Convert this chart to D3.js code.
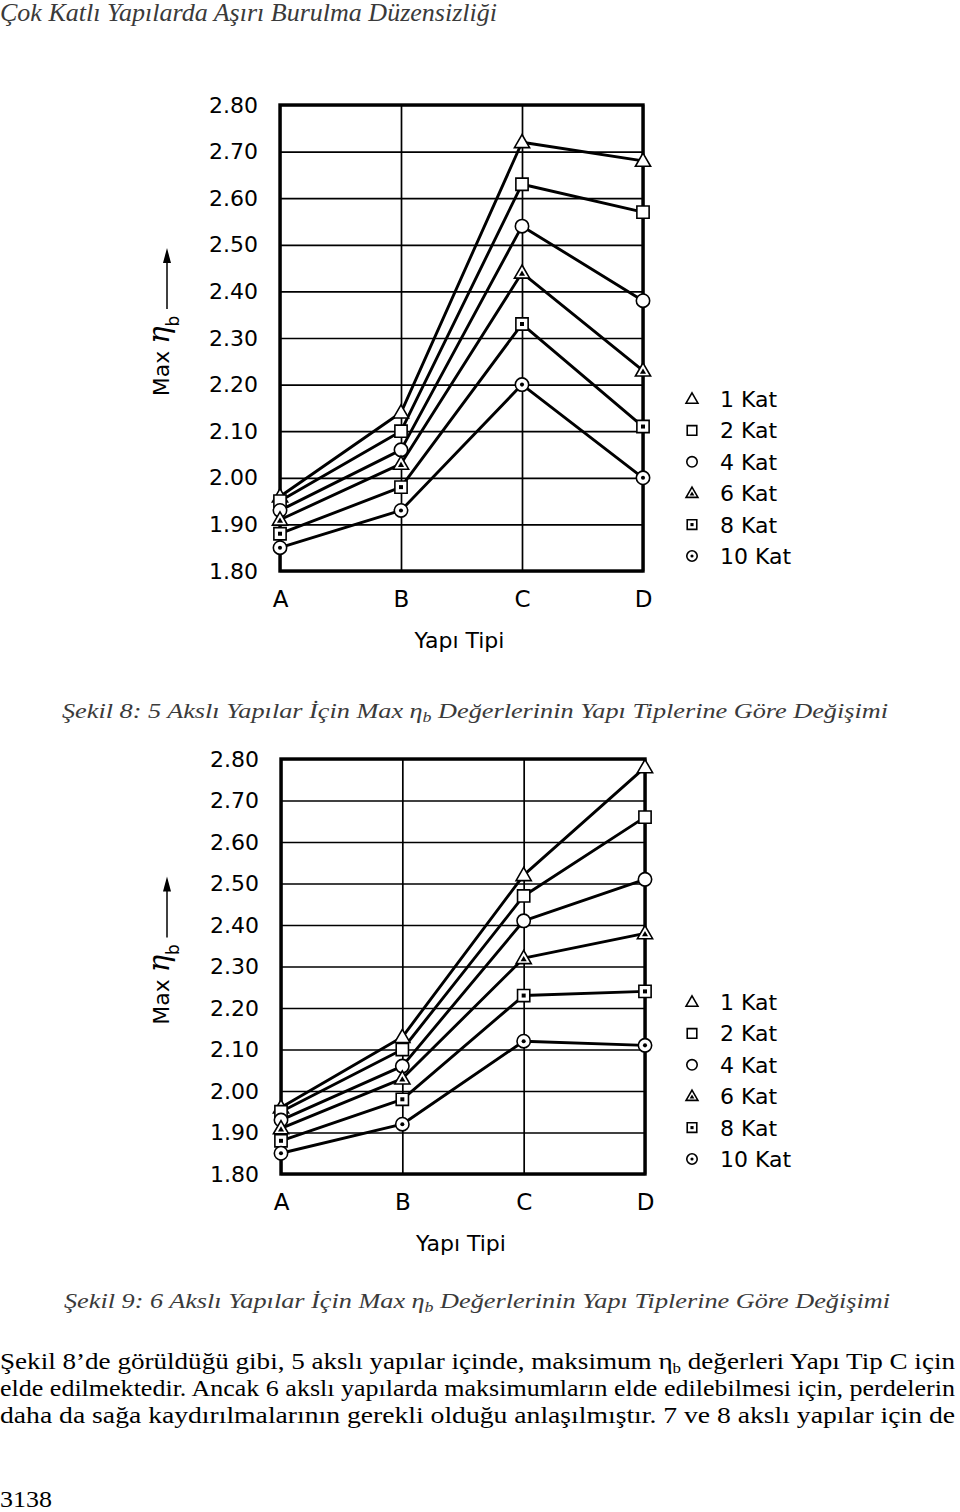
<!DOCTYPE html>
<html>
<head>
<meta charset="utf-8">
<script src="https://cdn.jsdelivr.net/npm/d3@7"></script>
<style>
  html, body { margin: 0; padding: 0; background: #fff; }
  svg { display: block; }
  .serif { font-family: "Liberation Serif", "Times New Roman", Times, "Nimbus Roman", serif; }
  .sans { font-family: "DejaVu Sans", Verdana, sans-serif; }
</style>
</head>
<body>
<script>
// ---------------- DATA ----------------
const categories = ["A", "B", "C", "D"];
const seriesNames = ["1 Kat", "2 Kat", "4 Kat", "6 Kat", "8 Kat", "10 Kat"];
const yTickValues = [1.80, 1.90, 2.00, 2.10, 2.20, 2.30, 2.40, 2.50, 2.60, 2.70, 2.80];

// Şekil 8: 5 akslı yapılar
const fig8_kat1  = [1.96, 2.14, 2.72, 2.68];
const fig8_kat2  = [1.95, 2.10, 2.63, 2.57];
const fig8_kat4  = [1.93, 2.06, 2.54, 2.38];
const fig8_kat6  = [1.91, 2.03, 2.44, 2.23];
const fig8_kat8  = [1.88, 1.98, 2.33, 2.11];
const fig8_kat10 = [1.85, 1.93, 2.20, 2.00];

// Şekil 9: 6 akslı yapılar
const fig9_kat1  = [1.96, 2.13, 2.52, 2.78];
const fig9_kat2  = [1.95, 2.10, 2.47, 2.66];
const fig9_kat4  = [1.93, 2.06, 2.41, 2.51];
const fig9_kat6  = [1.91, 2.03, 2.32, 2.38];
const fig9_kat8  = [1.88, 1.98, 2.23, 2.24];
const fig9_kat10 = [1.85, 1.92, 2.12, 2.11];

const headerText = "Çok Katlı Yapılarda Aşırı Burulma Düzensizliği";
const caption8 = ["Şekil 8: 5 Akslı Yapılar İçin Max ", "Değerlerinin Yapı Tiplerine Göre Değişimi"];
const caption9 = ["Şekil 9: 6 Akslı Yapılar İçin Max ", "Değerlerinin Yapı Tiplerine Göre Değişimi"];
const paraLines = [
  ["Şekil 8’de görüldüğü gibi, 5 akslı yapılar içinde, maksimum ", " değerleri Yapı Tip C için"],
  ["elde edilmektedir. Ancak 6 akslı yapılarda maksimumların elde edilebilmesi için, perdelerin"],
  ["daha da sağa kaydırılmalarının gerekli olduğu anlaşılmıştır. 7 ve 8 akslı yapılar için de"]
];
const pageNumber = "3138";
const xTitle = "Yapı Tipi";

// ---------------- LAYOUT ----------------
const W = 960, H = 1512;
const svg = d3.select("body").append("svg")
  .attr("width", W).attr("height", H)
  .attr("viewBox", `0 0 ${W} ${H}`);
svg.append("rect").attr("width", W).attr("height", H).attr("fill", "#fff");

const markerTypes = [
  { shape: d3.symbolTriangle, inner: null },
  { shape: d3.symbolSquare, inner: null },
  { shape: d3.symbolCircle, inner: null },
  { shape: d3.symbolTriangle, inner: d3.symbolTriangle },
  { shape: d3.symbolSquare, inner: d3.symbolSquare },
  { shape: d3.symbolCircle, inner: d3.symbolCircle }
];
const outerSize = [100, 150, 140, 100, 150, 140];
const innerSize = [0, 0, 0, 16, 16, 13];

function drawMarker(g, i, x, y, scale) {
  const t = markerTypes[i];
  const dy = (t.shape === d3.symbolTriangle) ? 1 : 0;
  g.append("path")
    .attr("d", d3.symbol().type(t.shape).size(outerSize[i] * scale * scale)())
    .attr("transform", `translate(${x},${y + dy * scale})`)
    .attr("fill", "#fff").attr("stroke", "#000").attr("stroke-width", 1.6);
  if (t.inner) {
    g.append("path")
      .attr("d", d3.symbol().type(t.inner).size(innerSize[i] * scale * scale)())
      .attr("transform", `translate(${x},${y + dy * scale * 1.3})`)
      .attr("fill", "#000");
  }
}

function drawChart(cfg, data) {
  const x = d3.scalePoint().domain(categories).range([cfg.left, cfg.right]).padding(0);
  const y = d3.scaleLinear().domain([1.80, 2.80]).range([cfg.bottom, cfg.top]);
  const w = cfg.right - cfg.left, h = cfg.bottom - cfg.top;
  const g = svg.append("g");

  // Y axis with horizontal grid
  const yAxis = g.append("g")
    .attr("transform", `translate(${cfg.left},0)`)
    .call(d3.axisLeft(y).tickValues(yTickValues).tickFormat(d3.format(".2f"))
      .tickSize(-w).tickPadding(22));
  yAxis.select(".domain").remove();
  yAxis.selectAll(".tick line").attr("stroke", "#000").attr("stroke-width", 1.7);
  yAxis.selectAll(".tick text").attr("class", "sans").attr("font-family", null)
    .attr("font-size", 22).attr("fill", "#000");

  // X axis with vertical grid
  const xAxis = g.append("g")
    .attr("transform", `translate(0,${cfg.bottom})`)
    .call(d3.axisBottom(x).tickSize(-h).tickPadding(20));
  xAxis.select(".domain").remove();
  xAxis.selectAll(".tick line").attr("stroke", "#000").attr("stroke-width", 1.7);
  xAxis.selectAll(".tick text").attr("class", "sans").attr("font-family", null)
    .attr("font-size", 23).attr("fill", "#000");
  yAxis.attr("font-family", null);
  xAxis.attr("font-family", null);

  // frame
  g.append("rect").attr("x", cfg.left).attr("y", cfg.top).attr("width", w).attr("height", h)
    .attr("fill", "none").attr("stroke", "#000").attr("stroke-width", 3.4);

  // axis titles
  g.append("text").attr("class", "sans").attr("x", (cfg.left + cfg.right) / 2 - 2).attr("y", cfg.bottom + 77)
    .attr("text-anchor", "middle").attr("font-size", 22)
    .text(xTitle);

  const cy = (cfg.top + cfg.bottom) / 2 + 18;
  const yl = g.append("text").attr("class", "sans").attr("transform", `translate(169,${cy}) rotate(-90)`)
    .attr("text-anchor", "middle").attr("font-size", 22);
  yl.append("tspan").text("Max ");
  yl.append("tspan").attr("font-family", "DejaVu Serif, serif").attr("font-style", "italic")
    .attr("font-size", 29).text("η");
  yl.append("tspan").attr("font-size", 17).attr("dy", 10).text("b");

  // arrow
  g.append("line").attr("x1", 167).attr("x2", 167).attr("y1", cy - 47).attr("y2", cy - 98)
    .attr("stroke", "#000").attr("stroke-width", 1.5);
  g.append("path").attr("d", `M167,${cy - 108} L171,${cy - 93} L163,${cy - 93} Z`).attr("fill", "#000");

  // lines
  const line = d3.line().x((d, i) => x(categories[i])).y(d => y(d));
  data.forEach(vals => {
    g.append("path").datum(vals).attr("d", line)
      .attr("fill", "none").attr("stroke", "#000").attr("stroke-width", 2.9)
      .attr("stroke-linejoin", "round");
  });
  // markers
  data.forEach((vals, si) => {
    vals.forEach((v, i) => drawMarker(g, si, x(categories[i]), y(v), 1));
  });

  // legend
  seriesNames.forEach((name, i) => {
    const ly = cfg.bottom - 15 - (seriesNames.length - 1 - i) * 31.4;
    drawMarker(g, i, 692, ly, 0.78);
    g.append("text").attr("class", "sans").attr("x", 720).attr("y", ly + 8)
      .attr("font-size", 22).attr("fill", "#000").text(name);
  });
}

drawChart({ left: 280, right: 643, top: 105, bottom: 571 },
  [fig8_kat1, fig8_kat2, fig8_kat4, fig8_kat6, fig8_kat8, fig8_kat10]);
drawChart({ left: 281, right: 645, top: 759, bottom: 1174 },
  [fig9_kat1, fig9_kat2, fig9_kat4, fig9_kat6, fig9_kat8, fig9_kat10]);

// ---------------- TEXT ----------------
svg.append("text").attr("class", "serif").attr("x", 0).attr("y", 21)
  .attr("font-style", "italic").attr("font-size", 25)
  .attr("fill", "#3a3a3a").attr("textLength", 497).attr("lengthAdjust", "spacingAndGlyphs")
  .text(headerText);

function caption(parts, yPos, x0, len) {
  const t = svg.append("text").attr("class", "serif").attr("x", x0).attr("y", yPos)
    .attr("font-style", "italic").attr("font-size", 22)
    .attr("fill", "#3a3a3a").attr("textLength", len).attr("lengthAdjust", "spacingAndGlyphs");
  t.append("tspan").text(parts[0]);
  t.append("tspan").text("η");
  t.append("tspan").attr("font-size", 15).attr("dy", 4).text("b");
  t.append("tspan").attr("dy", -4).text(" " + parts[1]);
}
caption(caption8, 718, 62, 826);
caption(caption9, 1308, 64, 826);

paraLines.forEach((parts, li) => {
  const t = svg.append("text").attr("class", "serif").attr("x", 0).attr("y", 1369 + li * 27)
    .attr("font-size", 24).attr("fill", "#000")
    .attr("textLength", 955).attr("lengthAdjust", "spacingAndGlyphs");
  t.append("tspan").text(parts[0]);
  if (parts.length > 1) {
    t.append("tspan").text("η");
    t.append("tspan").attr("font-size", 15).attr("dy", 4).text("b");
    t.append("tspan").attr("dy", -4).text(parts[1]);
  }
});

svg.append("text").attr("class", "serif").attr("x", 0).attr("y", 1507)
  .attr("font-size", 24).attr("fill", "#000")
  .attr("textLength", 52).attr("lengthAdjust", "spacingAndGlyphs")
  .text(pageNumber);
</script>
</body>
</html>
